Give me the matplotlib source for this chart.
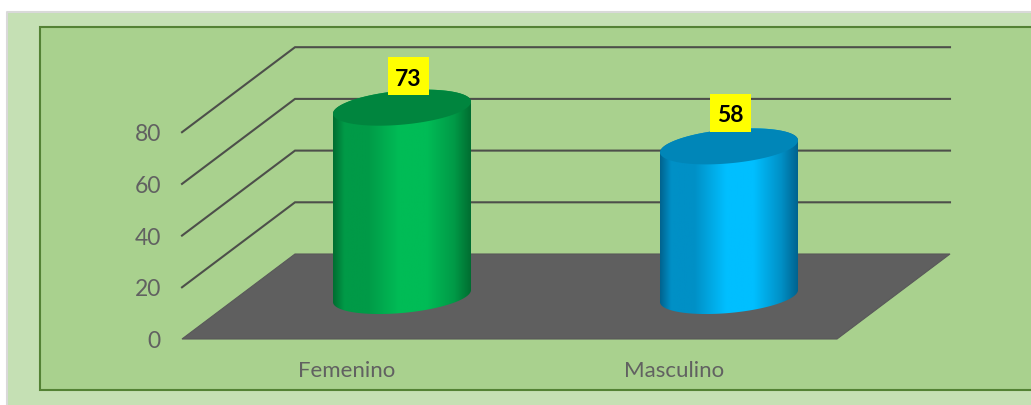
import numpy as np
import matplotlib
matplotlib.use('Agg')
import matplotlib.pyplot as plt
from matplotlib.patches import Polygon, Rectangle
from matplotlib.colors import LinearSegmentedColormap

categories = ['Femenino', 'Masculino']
values = [73, 58]
y_ticks = [0, 20, 40, 60, 80]

plt.rcParams['font.family'] = ['Lato', 'DejaVu Sans']

W, H = 1031, 405
fig = plt.figure(figsize=(W / 100, H / 100), dpi=100, facecolor='white')
ax = fig.add_axes([0, 0, 1, 1])
ax.set_xlim(0, W)
ax.set_ylim(H, 0)
ax.axis('off')

# page background and plot frame, pixel space
ax.add_patch(Rectangle((7, 12), 1024, 393, fc='#c5e0b4', ec='none', zorder=0))
ax.plot([7, 7, 1031], [405, 12, 12], color='#d9d9d9', lw=1.5, zorder=1)
ax.add_patch(Rectangle((40, 27), 1000, 363, fc='#a9d18e', ec='#548235', lw=1.5, zorder=1))

# 3d box geometry
x0, x1 = 182, 837
dx, dy = 113, -85
base_y = 339
per_unit = 2.585

def val_y(v):
    return base_y - v * per_unit

ax.add_patch(Polygon([(x0, base_y), (x1, base_y), (x1 + dx, base_y + dy), (x0 + dx, base_y + dy)],
                     fc='#5f5f5f', ec='#595959', lw=0.8, zorder=2))
for t in y_ticks[1:]:
    y = val_y(t)
    ax.plot([x0, x0 + dx, x1 + dx], [y, y + dy, y + dy], color='#4d4f4a', lw=1.5,
            solid_joinstyle='miter', zorder=2)
for t in y_ticks:
    ax.text(161, val_y(t) + 0.5, str(t), ha='right', va='center_baseline', fontsize=16.5, color='#616161', zorder=3)

# cylinders
centers = [402, 729]
half_w = 69
tilt = 6
ry = 17
bottom = 296
bar_unit = 2.58
# dark edge, shoulder, light middle
colors = [('#006e31', '#009a47', '#00bc56', '#00853e'),
          ('#00638f', '#0090c6', '#00bfff', '#0086b8')]
label_pos = [(408.5, 76), (730.5, 113)]
cat_x = [347, 674]

def ellipse_pts(cx, cy, a):
    x = cx + half_w * np.cos(a)
    y = cy + ry * np.sin(a) - tilt * np.cos(a)
    return x, y

for i, cat in enumerate(categories):
    cx = centers[i]
    top = bottom - values[i] * bar_unit
    edge, shoulder, mid, cap = colors[i]
    cmap = LinearSegmentedColormap.from_list('c', [(0, edge), (0.08, shoulder), (0.25, shoulder), (0.48, mid),
                                                   (0.68, mid), (0.88, shoulder), (1, edge)])
    xb, yb = ellipse_pts(cx, bottom, np.linspace(0, np.pi, 100))
    xt, yt = ellipse_pts(cx, top, np.linspace(np.pi, 2 * np.pi, 100))
    body = Polygon(np.column_stack([np.r_[xb, xt], np.r_[yb, yt]]), closed=True, fc='none', ec='none', zorder=4)
    ax.add_patch(body)
    im = ax.imshow(np.linspace(0, 1, 256)[None, :], cmap=cmap, aspect='auto',
                   extent=[cx - half_w, cx + half_w, bottom + 30, top - 30], zorder=4)
    im.set_clip_path(body)
    xc, yc = ellipse_pts(cx, top, np.linspace(0, 2 * np.pi, 200))
    ax.add_patch(Polygon(np.column_stack([xc, yc]), closed=True, fc=cap, ec='none', zorder=5))

    lx, ly = label_pos[i]
    ax.add_patch(Rectangle((lx - 20.5, ly - 19), 41, 38, fc='#ffff00', ec='none', zorder=6))
    ax.text(lx, ly + 1, str(values[i]), ha='center', va='center_baseline', fontsize=16.5,
            fontweight='bold', color='black', zorder=7)
    ax.text(cat_x[i], 369, cat, ha='center', va='center_baseline', fontsize=16, color='#616161', zorder=3)

ax.set_xlim(0, W)
ax.set_ylim(H, 0)
fig.savefig('out.png', dpi=100)
